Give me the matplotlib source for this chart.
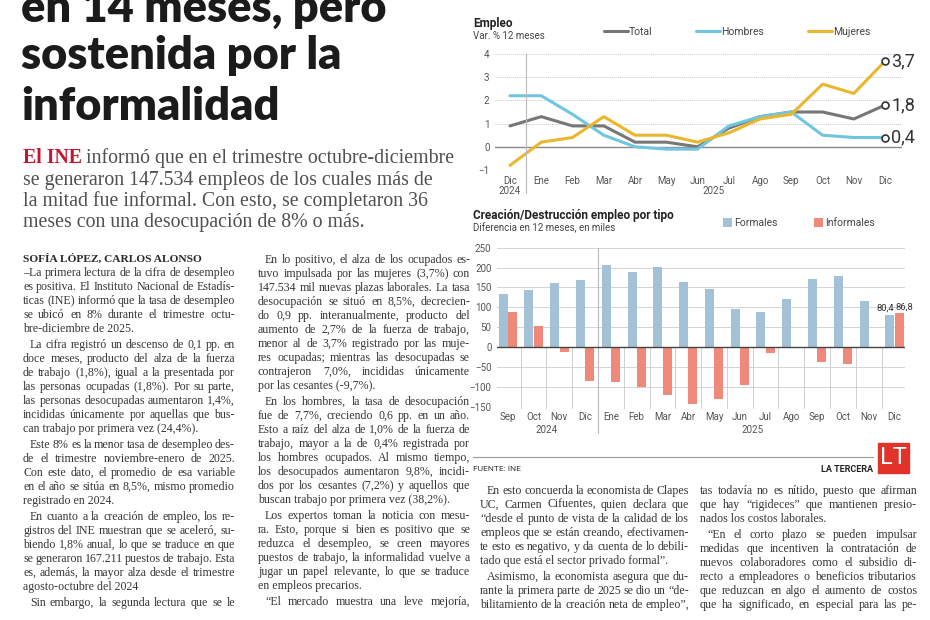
import numpy as np
import matplotlib
matplotlib.use("Agg")
import matplotlib.pyplot as plt
from matplotlib import font_manager
from matplotlib.patches import Rectangle
from matplotlib.lines import Line2D

# chart data
meses1 = ["Dic", "Ene", "Feb", "Mar", "Abr", "May", "Jun", "Jul", "Ago", "Sep", "Oct", "Nov", "Dic"]
total = [0.9, 1.3, 0.9, 0.9, 0.2, 0.2, 0.0, 0.8, 1.3, 1.5, 1.5, 1.2, 1.8]
hombres = [2.2, 2.2, 1.4, 0.5, 0.0, -0.1, -0.1, 0.9, 1.3, 1.5, 0.5, 0.4, 0.4]
mujeres = [-0.8, 0.2, 0.4, 1.3, 0.5, 0.5, 0.2, 0.6, 1.2, 1.4, 2.7, 2.3, 3.7]

meses2 = ["Sep", "Oct", "Nov", "Dic", "Ene", "Feb", "Mar", "Abr", "May", "Jun", "Jul", "Ago", "Sep", "Oct", "Nov", "Dic"]
formales = [133, 143, 160, 169, 207, 189, 201, 164, 146, 97, 87, 121, 171, 180, 115, 80.4]
informales = [87, 53, -12, -85, -87, -101, -120, -143, -131, -95, -16, 0, -37, -42, 0, 86.8]

W, H = 930, 620
fig = plt.figure(figsize=(9.3, 6.2), dpi=100)
fig.patch.set_facecolor("white")


def fx(px):
    return px / W


def fy(py):
    return 1 - py / H


SERIF = "Liberation Serif"
SANS = "Roboto"
installed = {f.name for f in font_manager.fontManager.ttflist}
NARROW = "Liberation Sans Narrow" if "Liberation Sans Narrow" in installed else SANS
BODY = "#363636"

'# headline'
for txt, yb in [("en 14 meses, pero", 22), ("sostenida por la", 69), ("informalidad", 120)]:
    fig.text(fx(21), fy(yb), txt, family="Lato", weight="heavy", size=32.5,
             color="#1b1b1b", va="baseline")

'# lead paragraph'
r = fig.canvas.get_renderer()
LEAD = 14.3
t0 = fig.text(fx(23), fy(163), "El INE", family=SERIF, weight="bold", size=LEAD,
              color="#c8142d", va="baseline")
w0 = t0.get_window_extent(r).width
fig.text(fx(23 + w0 + 4), fy(163), "informó que en el trimestre octubre-diciembre",
         family=SERIF, size=LEAD, color="#505050", va="baseline")
for txt, yb in [("se generaron 147.534 empleos de los cuales más de", 185),
                ("la mitad fue informal. Con esto, se completaron 36", 206),
                ("meses con una desocupación de 8% o más.", 227)]:
    fig.text(fx(23), fy(yb), txt, family=SERIF, size=LEAD, color="#505050", va="baseline")


def block(x0, x1, y, paras, indent_first=True, step=14.0, gap=2.0, size=8.6):
    for pi, para in enumerate(paras):
        for li, line in enumerate(para):
            ind = 7 if (li == 0 and (pi > 0 or indent_first)) else 0
            words = line.split()
            if li == len(para) - 1 or len(words) == 1:
                fig.text(fx(x0 + ind), fy(y), line, family=SERIF, size=size,
                         color=BODY, va="baseline")
            else:
                ts = [fig.text(0, 0, w, family=SERIF, size=size, color=BODY, va="baseline")
                      for w in words]
                ws = [t.get_window_extent(r).width for t in ts]
                sp = (x1 - x0 - ind - sum(ws)) / (len(words) - 1)
                if sp < 1.5:
                    # too long for the column: squeeze the font a little
                    k = (x1 - x0 - ind - 1.5 * (len(words) - 1)) / sum(ws)
                    for t in ts:
                        t.set_size(size * k)
                    ws = [w * k for w in ws]
                    sp = 1.5
                xx = x0 + ind
                for t, w in zip(ts, ws):
                    t.set_position((fx(xx), fy(y)))
                    xx += w + sp
            y += step
        y += gap


col1 = [
    ["–La primera lectura de la cifra de desempleo",
     "es positiva. El Instituto Nacional de Estadís-",
     "ticas (INE) informó que la tasa de desempleo",
     "se ubicó en 8% durante el trimestre octu-",
     "bre-diciembre de 2025."],
    ["La cifra registró un descenso de 0,1 pp. en",
     "doce meses, producto del alza de la fuerza",
     "de trabajo (1,8%), igual a la presentada por",
     "las personas ocupadas (1,8%). Por su parte,",
     "las personas desocupadas aumentaron 1,4%,",
     "incididas únicamente por aquellas que bus-",
     "can trabajo por primera vez (24,4%)."],
    ["Este 8% es la menor tasa de desempleo des-",
     "de el trimestre noviembre-enero de 2025.",
     "Con este dato, el promedio de esa variable",
     "en el año se sitúa en 8,5%, mismo promedio",
     "registrado en 2024."],
    ["En cuanto a la creación de empleo, los re-",
     "gistros del INE muestran que se aceleró, su-",
     "biendo 1,8% anual, lo que se traduce en que",
     "se generaron 167.211 puestos de trabajo. Esta",
     "es, además, la mayor alza desde el trimestre",
     "agosto-octubre del 2024"],
    ["Sin embargo, la segunda lectura que se le", ""],
]
col2 = [
    ["En lo positivo, el alza de los ocupados es-",
     "tuvo impulsada por las mujeres (3,7%) con",
     "147.534 mil nuevas plazas laborales. La tasa",
     "desocupación se situó en 8,5%, decrecien-",
     "do 0,9 pp. interanualmente, producto del",
     "aumento de 2,7% de la fuerza de trabajo,",
     "menor al de 3,7% registrado por las muje-",
     "res ocupadas; mientras las desocupadas se",
     "contrajeron 7,0%, incididas únicamente",
     "por las cesantes (-9,7%)."],
    ["En los hombres, la tasa de desocupación",
     "fue de 7,7%, creciendo 0,6 pp. en un año.",
     "Esto a raíz del alza de 1,0% de la fuerza de",
     "trabajo, mayor a la de 0,4% registrada por",
     "los hombres ocupados. Al mismo tiempo,",
     "los desocupados aumentaron 9,8%, incidi-",
     "dos por los cesantes (7,2%) y aquellos que",
     "buscan trabajo por primera vez (38,2%)."],
    ["Los expertos toman la noticia con mesu-",
     "ra. Esto, porque si bien es positivo que se",
     "reduzca el desempleo, se creen mayores",
     "puestos de trabajo, la informalidad vuelve a",
     "jugar un papel relevante, lo que se traduce",
     "en empleos precarios."],
    ["“El mercado muestra una leve mejoría,", ""],
]
col3 = [
    ["En esto concuerda la economista de Clapes",
     "UC, Carmen Cifuentes, quien declara que",
     "“desde el punto de vista de la calidad de los",
     "empleos que se están creando, efectivamen-",
     "te esto es negativo, y da cuenta de lo debili-",
     "tado que está el sector privado formal”."],
    ["Asimismo, la economista asegura que du-",
     "rante la primera parte de 2025 se dio un “de-",
     "bilitamiento de la creación neta de empleo”,", ""],
]
col4 = [
    ["tas todavía no es nítido, puesto que afirman",
     "que hay “rigideces” que mantienen presio-",
     "nados los costos laborales."],
    ["“En el corto plazo se pueden impulsar",
     "medidas que incentiven la contratación de",
     "nuevos colaboradores como el subsidio di-",
     "recto a empleadores o beneficios tributarios",
     "que reduzcan en algo el aumento de costos",
     "que ha significado, en especial para las pe-", ""],
]

fig.text(fx(23), fy(262), "SOFÍA LÓPEZ, CARLOS ALONSO", family=SERIF, weight="bold",
         size=8.2, color="#2a2a2a", va="baseline")
block(23, 235, 276, col1, indent_first=False)
block(258, 470, 263, col2)
block(480, 689, 494, col3)
block(700, 917, 494, col4, indent_first=False)

'# ---- chart 1: empleo ----'
ax1 = fig.add_axes([fx(495), fy(170), (902 - 495) / W, (170 - 54) / H])
x1 = np.arange(len(meses1))
l1, = ax1.plot(x1, total, color="#777777", lw=2.2, label="Total", solid_capstyle="round")
l2, = ax1.plot(x1, hombres, color="#6fc6de", lw=2.2, label="Hombres", solid_capstyle="round")
l3, = ax1.plot(x1, mujeres, color="#e9b72d", lw=2.2, label="Mujeres", solid_capstyle="round")
for s in (total, hombres, mujeres):
    ax1.plot(x1[-1], s[-1], "o", ms=5, mfc="white", mec="#333333", mew=1.2, zorder=5)
    ax1.text(x1[-1] + 0.2, s[-1], f"{s[-1]:.1f}".replace(".", ","), family=NARROW,
             size=13, color="#333333", va="center", ha="left")
ax1.set_xlim(-0.48, 12.54)
ax1.set_ylim(-1, 4)
ax1.set_yticks([-1, 0, 1, 2, 3, 4])
ax1.set_xticks(x1)
ax1.set_xticklabels(meses1)
for v in [1, 2, 3, 4]:
    ax1.axhline(v, color="#c8c8c8", lw=0.7, ls=(0, (1, 1)), zorder=0)
ax1.axhline(-1, color="#d0d0d0", lw=0.8, zorder=0)
ax1.axhline(0, color="#8a8a8a", lw=1.0, zorder=1)
ax1.axvline(0.5, ymin=-0.2, ymax=1, color="#bbbbbb", lw=0.8, clip_on=False)
for sp in ax1.spines.values():
    sp.set_visible(False)
ax1.tick_params(length=0, labelsize=7, labelcolor="#555555", pad=4)
for lab in ax1.get_xticklabels() + ax1.get_yticklabels():
    lab.set_family(SANS)
ax1.text(0, -0.18, "2024", transform=ax1.get_xaxis_transform(), ha="center", va="center",
         size=7, color="#555555", family=SANS)
ax1.text(6.5, -0.18, "2025", transform=ax1.get_xaxis_transform(), ha="center", va="center",
         size=7, color="#555555", family=SANS)
ax1.legend(handles=[l1, l2, l3], loc="center left", bbox_to_anchor=(0.245, 1.19), ncol=3,
           frameon=False, handlelength=2.3, handletextpad=0.1, columnspacing=4.2,
           prop={"family": SANS, "size": 7.5}, labelcolor="#444444")
fig.text(fx(473), fy(23), "Empleo", family=SANS, weight="bold", size=8.5, color="#222222", va="center")
fig.text(fx(473), fy(36), "Var. % 12 meses", family=SANS, size=7, color="#444444", va="center")

'# ---- chart 2: formales / informales ----'
ax2 = fig.add_axes([fx(497), fy(406.7), (905 - 497) / W, (406.7 - 247.7) / H])
x2 = np.arange(len(meses2))
b1 = ax2.bar(x2 - 0.18, formales, width=0.35, color="#a3c2d8", label="Formales", zorder=2)
b2 = ax2.bar(x2 + 0.18, informales, width=0.35, color="#f0897a", label="Informales", zorder=2)
ax2.text(x2[-1] + 0.0, 86, "80,4", ha="right", va="bottom", size=6.8, family=NARROW, color="#333333")
ax2.text(x2[-1] + 0.06, 90, "86,8", ha="left", va="bottom", size=6.8, family=NARROW, color="#333333")
ax2.set_xlim(-0.42, 15.41)
ax2.set_ylim(-150, 250)
ax2.set_yticks(np.arange(-150, 251, 50))
ax2.set_xticks(x2)
ax2.set_xticklabels(meses2)
for v in np.arange(-150, 251, 50):
    if v != 0:
        ax2.axhline(v, color="#d4d4d4", lw=0.7, zorder=0)
ax2.axhline(0, color="#444444", lw=1.0, zorder=3)
for k in x2[:-1]:
    if k == 3:
        continue
    ax2.plot([k + 0.5, k + 0.5], [0, -153], color="#cfcfcf", lw=0.7, zorder=0, clip_on=False)
ax2.axvline(3.5, ymin=-0.165, ymax=1, color="#bbbbbb", lw=0.8, clip_on=False, zorder=0)
for sp in ax2.spines.values():
    sp.set_visible(False)
ax2.tick_params(length=0, labelsize=7, labelcolor="#555555", pad=4)
for lab in ax2.get_xticklabels() + ax2.get_yticklabels():
    lab.set_family(SANS)
ax2.text(1.5, -0.147, "2024", transform=ax2.get_xaxis_transform(), ha="center", va="center",
         size=7, color="#555555", family=SANS)
ax2.text(9.5, -0.147, "2025", transform=ax2.get_xaxis_transform(), ha="center", va="center",
         size=7, color="#555555", family=SANS)
ax2.legend(handles=[b1, b2], loc="center left", bbox_to_anchor=(0.53, 1.155), ncol=2,
           frameon=False, handlelength=0.9, handleheight=0.9, handletextpad=0.2,
           columnspacing=3.5, prop={"family": SANS, "size": 7.5}, labelcolor="#444444")
fig.text(fx(473), fy(215), "Creación/Destrucción empleo por tipo", family=SANS, weight="bold",
         size=8.5, color="#222222", va="center")
fig.text(fx(473), fy(228), "Diferencia en 12 meses, en miles", family=SANS, size=7,
         color="#444444", va="center")

'# ---- footer ----'
fig.add_artist(Line2D([fx(473), fx(873)], [fy(457), fy(457)], color="#9a9a9a", lw=0.8))
fig.text(fx(473), fy(469), "FUENTE: INE", family=SANS, size=6, color="#333333", va="center")
fig.text(fx(873), fy(469), "LA TERCERA", family=SANS, weight="bold", size=6.5,
         color="#222222", va="center", ha="right")
fig.add_artist(Rectangle((fx(878), fy(473)), 31 / W, 30 / H, color="#e2332b"))
fig.text(fx(893.5), fy(458), "LT", family=SANS, size=17, color="white", ha="center",
         va="center")

fig.savefig("out.png", dpi=100)
